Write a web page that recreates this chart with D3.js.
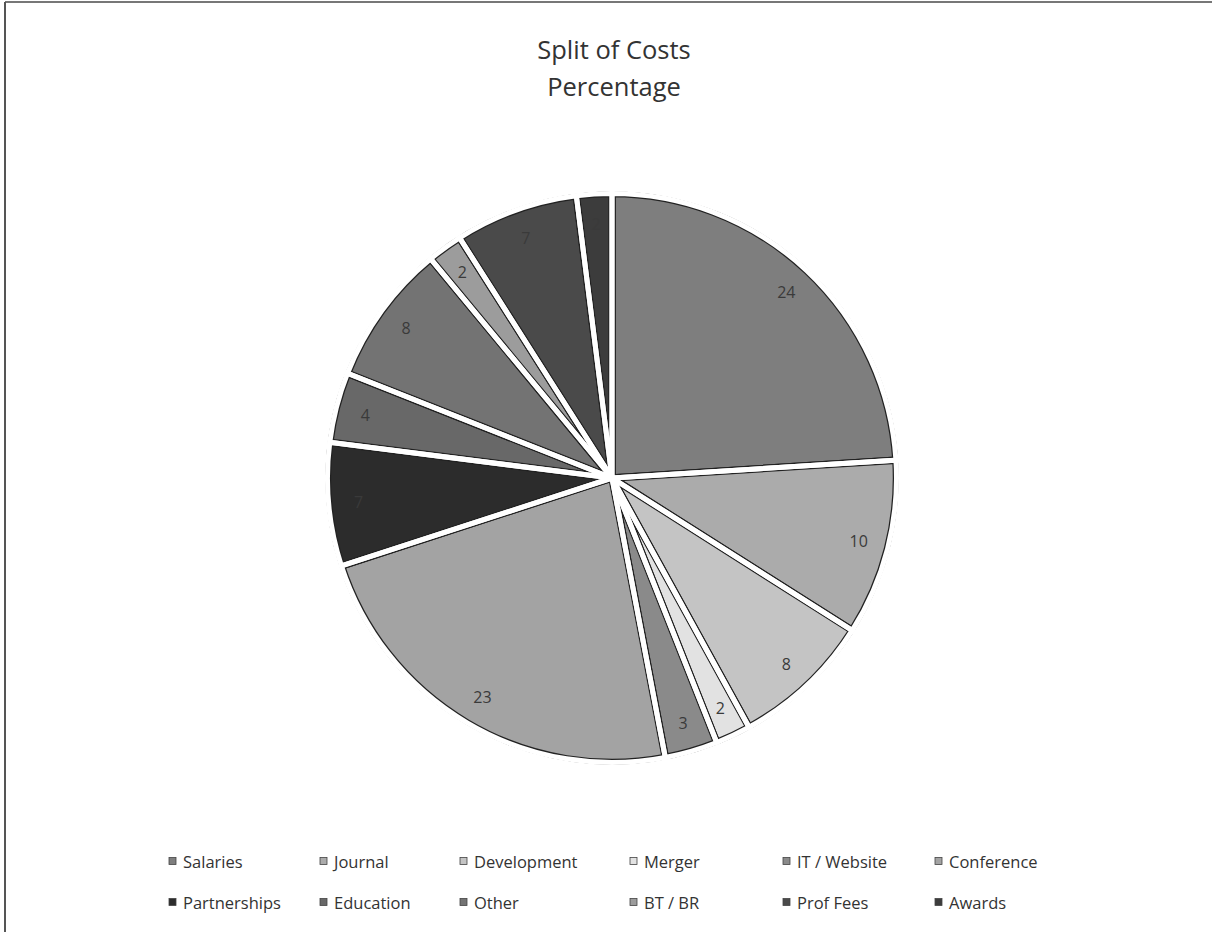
<!DOCTYPE html>
<html>
<head>
<meta charset="utf-8">
<script src="https://cdn.jsdelivr.net/npm/d3@7"></script>
<style>
  html, body { margin: 0; padding: 0; background: #fff; }
  svg { display: block; }
  text { font-family: "Open Sans", "Liberation Sans", sans-serif; }
</style>
</head>
<body>
<svg id="chart" width="1212" height="932"></svg>
<script>
const categories = ["Salaries", "Journal", "Development", "Merger", "IT / Website", "Conference",
                    "Partnerships", "Education", "Other", "BT / BR", "Prof Fees", "Awards"];
const values = [24, 10, 8, 2, 3, 23, 7, 4, 8, 2, 7, 2];
const titleLines = ["Split of Costs", "Percentage"];

const palette = ["#7e7e7e", "#ababab", "#c4c4c4", "#e2e2e2", "#8a8a8a", "#a3a3a3",
                 "#2c2c2c", "#686868", "#737373", "#9c9c9c", "#4a4a4a", "#3c3c3c"];

const W = 1212, H = 932;
const svg = d3.select("#chart");

// frame
svg.append("line").attr("x1", 5).attr("x2", W).attr("y1", 2).attr("y2", 2)
  .attr("stroke", "#777").attr("stroke-width", 2);
svg.append("line").attr("x1", 5).attr("x2", 5).attr("y1", 2).attr("y2", H)
  .attr("stroke", "#555").attr("stroke-width", 2);

// title
svg.append("g").selectAll("text").data(titleLines).join("text")
  .attr("x", 614).attr("y", (d, i) => 59 + i * 37)
  .attr("text-anchor", "middle")
  .attr("font-size", 25.5)
  .attr("fill", "#333")
  .text(d => d);

const cx = 612, cy = 478, R = 284.5;
const color = d3.scaleOrdinal().domain(categories).range(palette);
const pie = d3.pie().sort(null).value(d => d.v);
const data = categories.map((c, i) => ({ c, v: values[i] }));
const arcs = pie(data);
const arc = d3.arc().innerRadius(0).outerRadius(R);
const labelArc = d3.arc().innerRadius(R * 0.895).outerRadius(R * 0.895);

const g = svg.append("g").attr("transform", `translate(${cx},${cy})`);
// fills with a dark outline band
g.selectAll("path.slice").data(arcs).join("path")
  .attr("class", "slice")
  .attr("d", arc)
  .attr("fill", d => color(d.data.c))
  .attr("stroke", "#222")
  .attr("stroke-width", 7.5)
  .attr("stroke-linejoin", "miter");
// white separators inside the dark band, leaving thin dark edges
g.selectAll("path.sep").data(arcs).join("path")
  .attr("class", "sep")
  .attr("d", arc)
  .attr("fill", "none")
  .attr("stroke", "#fff")
  .attr("stroke-width", 5)
  .attr("stroke-linejoin", "miter");
// clear the outer side of the rim so only one dark outline remains
g.append("circle").attr("r", R + 4.5).attr("fill", "none")
  .attr("stroke", "#fff").attr("stroke-width", 5);

g.selectAll("text.lbl").data(arcs).join("text")
  .attr("class", "lbl")
  .attr("transform", d => `translate(${labelArc.centroid(d)})`)
  .attr("text-anchor", "middle")
  .attr("dominant-baseline", "central")
  .attr("font-size", 16)
  .attr("fill", "#3a3a3a")
  .text(d => d.data.v);

// legend
const colX = [169, 320, 460, 630, 783, 935];
const rowY = [861, 902];
const leg = svg.append("g").selectAll("g").data(categories).join("g")
  .attr("transform", (d, i) => `translate(${colX[i % 6]},${rowY[Math.floor(i / 6)]})`);
leg.append("rect").attr("x", 0).attr("y", -3.5).attr("width", 7).attr("height", 7)
  .attr("fill", d => color(d)).attr("stroke", "#444").attr("stroke-width", 0.8);
leg.append("text").attr("x", 14).attr("y", 0)
  .attr("dominant-baseline", "central")
  .attr("font-size", 16.5)
  .attr("fill", "#333")
  .text(d => d);
</script>
</body>
</html>
